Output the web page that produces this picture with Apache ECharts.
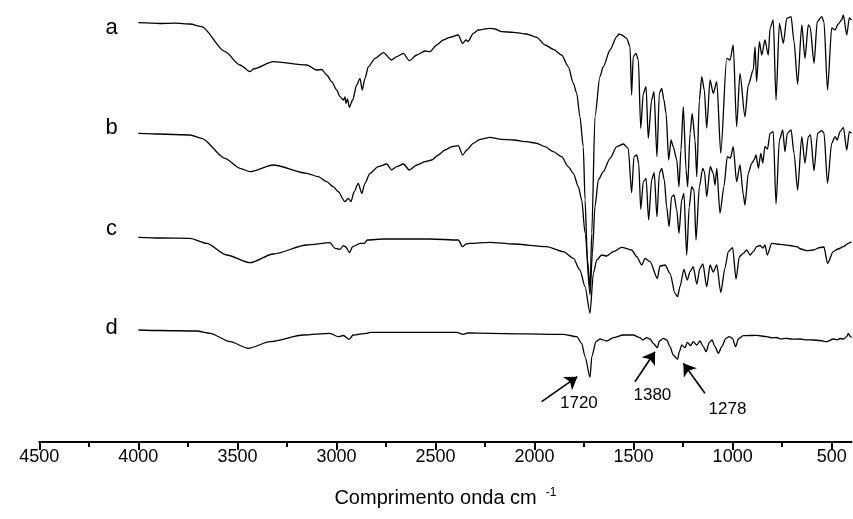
<!DOCTYPE html>
<html>
<head>
<meta charset="utf-8">
<script src="https://cdn.jsdelivr.net/npm/echarts@6/dist/echarts.min.js"></script>
<style>
  html, body { margin: 0; padding: 0; background: #fff; }
  #chart { width: 853px; height: 519px; }
</style>
</head>
<body>
<div id="chart"></div>
<script>
// FTIR spectra, offset vertically (a.u.); x = wavenumber in cm-1
const traceA = [
  [4000,419.3],[3891,418.5],[3815,418.8],[3739,418],[3680,415.3],[3563,390.3],[3487,377],[3436,370.3],
  [3420,373],[3319,380.3],[3150,377],[3100,372],[3074,372.5],[3049,367],[3024,360.3],[2999,352],
  [2982,345.3],[2965,342],[2957,345],[2952,338.7],[2944,343],[2935,334.7],[2918,342],[2898,357],
  [2881,363.7],[2870,352],[2856,363.7],[2839,375.3],[2805,383.7],[2763,389.3],[2721,382],[2696,385.3],
  [2662,388.7],[2632,381.3],[2595,387],[2553,391],[2528,390.3],[2494,397],[2461,402],[2427,404.7],
  [2385,407],[2363,398.7],[2346,402],[2336,400.5],[2309,408.7],[2284,412],[2225,413.7],[2200,413],
  [2166,410.3],[2107,409.7],[2040,408],[1989,404.7],[1947,397],[1905,392.7],[1863,387],[1830,375.3],
  [1804,358.7],[1787,348.7],[1771,325.3],[1754,295.3],[1745,242],[1733,182],[1720,154],[1711,209],
  [1695,325.3],[1670,365.3],[1653,375.3],[1619,392],[1585,405.3],[1574,408],[1560,407],[1535,403.7],
  [1518,395.3],[1510,347],[1502,385.3],[1488,388.7],[1476,382],[1464,313.7],[1451,348.7],[1437,355.3],
  [1426,303.7],[1409,342],[1397,350.3],[1382,285.3],[1370,348.7],[1358,353.7],[1347,342],[1336,328.7],
  [1323,282],[1311,302],[1300,295.3],[1282,282],[1271,255.3],[1261,292],[1249,335.3],[1235,272],
  [1227,255.3],[1215,308.7],[1204,328.7],[1190,302],[1181,265.3],[1168,342],[1156,365.3],[1143,352],
  [1131,314],[1114,362],[1098,348.7],[1080,360.3],[1060,288.7],[1030,383.7],[1013,382],[997,397],
  [980,315.3],[963,368.7],[938,325.3],[921,357],[896,372],[887,395.3],[879,360.3],[865,400.3],
  [853,387],[837,402],[820,387],[811,413.7],[795,422],[781,342],[764,418.7],[744,398.7],
  [727,423.7],[705,425.3],[690,400.3],[672,358],[651,417],[635,383.7],[618,417],[609,415],
  [589,378.7],[573,420.3],[550,425.3],[539,420],[521,352],[500,414],[483,412],[467,418],
  [450,422],[441,427],[424,407],[411,424],[400,422]
];

const traceB = [
  [4000,308.7],[3891,308],[3815,307.5],[3739,307],[3680,303.7],[3563,283.7],[3487,273.7],[3436,270.3],
  [3319,277],[3150,268.7],[3092,265.3],[3049,260.3],[3016,255.3],[2991,250.3],[2957,240.3],[2940,243.7],
  [2927,240.3],[2911,250],[2890,258.7],[2872,248.7],[2856,258.7],[2831,268.7],[2789,275.3],[2746,278],
  [2721,272],[2696,275.3],[2662,278],[2632,272],[2595,277],[2553,280.3],[2519,282],[2486,287],
  [2452,292],[2418,295.3],[2385,296.3],[2363,287],[2342,292],[2309,298.7],[2275,302.7],[2225,304.7],
  [2166,302.7],[2107,302],[2040,300.3],[1989,298.7],[1947,295.3],[1905,290.3],[1863,285.3],[1830,275.3],
  [1804,268.7],[1779,255.3],[1762,242],[1745,209],[1720,147],[1708,189],[1695,235.3],[1678,262],
  [1653,270.3],[1619,283.7],[1585,295.3],[1552,298],[1527,293.7],[1510,249.3],[1498,285.3],[1484,287],
  [1474,278.7],[1464,232.7],[1451,260.3],[1437,263.7],[1424,222],[1409,262],[1396,269.3],[1382,225.3],
  [1370,268.7],[1358,273.7],[1345,262],[1333,235.3],[1321,215.3],[1308,245.3],[1296,247],[1282,232],
  [1271,208.7],[1257,242],[1246,248.7],[1232,187],[1219,235.3],[1207,255.3],[1195,252],[1185,202],
  [1168,255.3],[1151,273.7],[1142,270],[1131,245.3],[1113,275.3],[1098,268.7],[1089,257],[1080,273.7],
  [1064,228.7],[1044,255.3],[1027,285.3],[1011,284],[997,295.3],[980,260.3],[963,277],[946,247],
  [938,237],[921,268.7],[904,278.7],[892,282],[882,287],[870,273.7],[858,288.7],[848,279],
  [837,295.3],[824,293],[811,308.7],[795,310.3],[781,238],[764,302],[747,312],[736,290.3],
  [724,308.7],[705,312],[690,288.7],[672,252],[651,305.3],[635,278.7],[618,305.3],[607,307],
  [589,271.3],[571,308.7],[550,311.3],[539,309],[521,258.7],[500,298.7],[483,305.3],[472,302],
  [458,310.3],[441,314.7],[424,292],[411,310.3],[400,308.7]
];

const traceC = [
  [4000,204.7],[3891,204],[3739,203.7],[3655,198.7],[3554,187],[3436,179.3],[3319,188],[3150,197],
  [3033,199.3],[3007,193.7],[2982,192.7],[2965,196.3],[2952,195],[2935,189.3],[2918,195.3],[2881,198.7],
  [2859,198.7],[2844,202],[2763,203],[2528,203],[2385,202],[2363,195.3],[2346,198],[2326,198.7],
  [2225,199.7],[2107,198],[1939,195.3],[1855,190.3],[1804,183.7],[1771,172],[1745,155.3],[1720,128.7],
  [1703,168.7],[1686,182],[1661,187],[1636,186],[1602,190.3],[1560,194.7],[1510,192],[1484,185.3],
  [1459,177],[1442,183.7],[1417,180.3],[1380,163.7],[1367,176],[1341,177],[1316,168.7],[1291,148.7],
  [1278,145.3],[1266,155.3],[1246,172.7],[1229,162],[1215,170.3],[1199,175.3],[1181,158],[1165,173.7],
  [1150,178],[1131,155.3],[1114,177],[1098,170],[1080,177],[1060,149.5],[1039,173.7],[1022,190.3],
  [1000,194.3],[983,163],[966,185.3],[946,188.7],[929,192],[912,187],[896,190.3],[879,195.3],
  [862,196.5],[847,194],[837,197],[825,187],[803,198.7],[761,197.7],[711,196.5],[677,195.3],
  [655,193],[626,191.3],[593,192],[559,194.5],[539,195],[521,178.7],[492,190.3],[468,193],
  [441,195.3],[416,198.7],[400,200.3]
];

const traceD = [
  [4000,112],[3891,111.5],[3705,111],[3638,108.7],[3537,100.3],[3445,93.7],[3335,100.3],[3167,107],
  [3033,108.7],[2991,105.3],[2965,106.5],[2935,102.7],[2916,107],[2847,108.7],[2831,109.7],[2393,109.7],
  [2360,107.7],[2336,109],[2225,108.7],[1855,107.7],[1787,105.3],[1762,98.7],[1745,85.3],[1720,64.7],
  [1711,85.3],[1690,100.3],[1670,103],[1636,101],[1602,104.3],[1552,107],[1502,107],[1468,104.3],
  [1454,102],[1434,104.3],[1417,103],[1401,98.7],[1380,94.3],[1370,101],[1350,103.7],[1333,102],
  [1316,95.3],[1300,87],[1278,82.7],[1269,90.3],[1257,97],[1240,94.3],[1229,99.7],[1212,96.3],
  [1199,100.3],[1181,97],[1165,101],[1148,95.3],[1134,90.3],[1118,99.7],[1104,102],[1089,95.3],
  [1072,88.7],[1055,95.3],[1034,103.7],[1017,105.3],[1001,103.5],[985,95.3],[971,103],[946,106.3],
  [879,106.7],[828,105.3],[800,104.2],[778,104.5],[760,103.2],[727,103.7],[700,102.8],[660,103],
  [630,102.2],[593,102],[559,101.5],[525,100.3],[492,103],[470,102.2],[458,103.5],[440,103],
  [424,105.3],[416,108.7],[408,106],[400,104.3]
];

// Trace names and where they are written
const traceNames = ['a', 'b', 'c', 'd'];
const traceNamePos = [[4135, 413.7], [4135, 313.7], [4135, 212.7], [4135, 113.7]];

// Band annotations: label text, label anchor, arrow start and arrow tip
const bandLabels = ['1720', '1380', '1278'];
const bandLabelPos = [[1776, 39], [1405, 46.5], [1026, 33]];
const bandArrowFrom = [[1964, 40.3], [1493, 60.3], [1140, 48.7]];
const bandArrowTo = [[1784, 65.3], [1392, 90.3], [1249, 78.7]];

// Axis ticks
const majorTicks = [500, 1000, 1500, 2000, 2500, 3000, 3500, 4000, 4500];
const minorTicks = [750, 1250, 1750, 2250, 2750, 3250, 3750, 4250];
const axisTitle = 'Comprimento onda cm';
const axisTitleSup = '-1';

const FONT = '"Liberation Sans", Arial, Helvetica, sans-serif';
const chart = echarts.init(document.getElementById('chart'), null, { renderer: 'canvas' });

const spectrum = (name, data) => ({
  name, type: 'line', data, showSymbol: false, symbol: 'none',
  smooth: 0.25, smoothMonotone: 'x',
  lineStyle: { color: '#000', width: 1.3 }, silent: true, z: 3
});

chart.setOption({
  animation: false,
  backgroundColor: '#fff',
  grid: { left: 39.3, right: 1.5, top: 0, bottom: 77, containLabel: false },
  xAxis: [
    {
      type: 'value', inverse: true, min: 400, max: 4500, position: 'bottom',
      axisLine: { show: true, lineStyle: { color: '#000', width: 2 } },
      axisTick: { show: true, customValues: majorTicks, length: 8, lineStyle: { color: '#000', width: 2 } },
      axisLabel: {
        show: true, customValues: majorTicks, margin: 6, color: '#000',
        fontSize: 18, fontFamily: FONT, formatter: v => String(v)
      },
      splitLine: { show: false },
      name: '{t|' + axisTitle + '}{g| }{s|' + axisTitleSup + '}',
      nameLocation: 'middle', nameGap: 45,
      nameTextStyle: {
        color: '#000', fontFamily: FONT,
        rich: {
          t: { fontSize: 20, fontFamily: FONT, color: '#000', lineHeight: 22 },
          g: { fontSize: 20, width: 9 },
          s: { fontSize: 12, fontFamily: FONT, color: '#000', verticalAlign: 'top', lineHeight: 22, padding: [0, 0, 10, 0] }
        }
      }
    },
    {
      type: 'value', inverse: true, min: 400, max: 4500, position: 'bottom',
      axisLine: { show: false },
      axisTick: { show: true, customValues: minorTicks, length: 5, lineStyle: { color: '#000', width: 2 } },
      axisLabel: { show: false },
      splitLine: { show: false }
    }
  ],
  yAxis: { type: 'value', min: 0, max: 442, show: false },
  series: [
    spectrum('a', traceA),
    spectrum('b', traceB),
    spectrum('c', traceC),
    spectrum('d', traceD),
    {
      name: 'trace names', type: 'scatter', symbolSize: 0, silent: true,
      itemStyle: { color: '#000', opacity: 1 },
      data: traceNames.map((n, i) => ({ value: traceNamePos[i], name: n })),
      label: {
        show: true, position: 'inside', formatter: p => p.name,
        color: '#000', fontSize: 22, fontFamily: FONT
      }
    },
    {
      name: 'bands', type: 'scatter', symbolSize: 0, silent: true,
      itemStyle: { color: '#000', opacity: 1 },
      data: bandLabels.map((t, i) => ({ value: bandLabelPos[i], name: t })),
      label: {
        show: true, position: 'inside', formatter: p => p.name,
        color: '#000', fontSize: 17, fontFamily: FONT
      },
      markLine: {
        silent: true, animation: false,
        symbol: ['none', 'arrow'], symbolSize: 12,
        label: { show: false },
        itemStyle: { color: '#000' },
        lineStyle: { color: '#000', width: 1.6, type: 'solid' },
        data: bandArrowFrom.map((p, i) => [{ coord: p }, { coord: bandArrowTo[i] }])
      }
    }
  ]
});
</script>
</body>
</html>
